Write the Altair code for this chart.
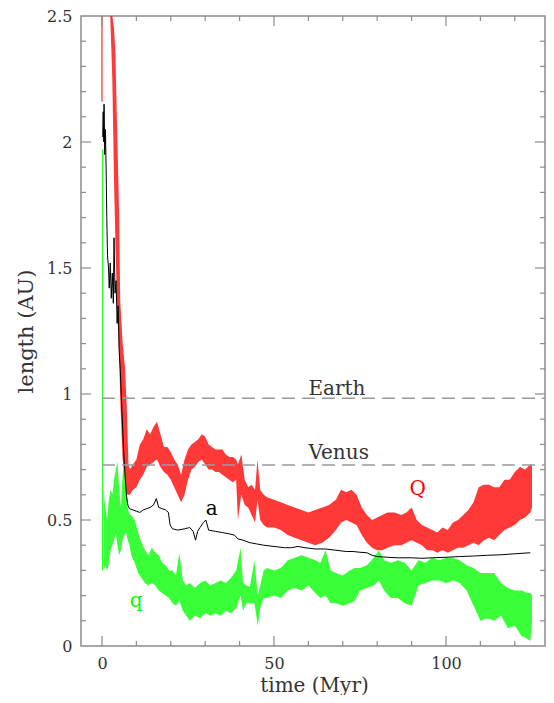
import altair as alt
import pandas as pd

# ---------------- data ----------------
# Q (aphelion) envelope: time (Myr), lower and upper edge (AU)
Q_time = [2.4, 3.0, 3.5, 3.9, 4.4, 5.0, 5.3, 6.0, 6.7, 7.2, 7.7, 8.1, 9, 10, 11, 12, 13, 14, 15, 16,
          17, 18, 19, 20, 21, 22, 23, 24, 25, 26, 27, 28, 29, 30, 31, 32, 33, 34, 35, 36,
          37, 38, 39, 39.5, 40.5, 41.5, 42.5, 43.5, 44.5, 45.2, 46, 47, 48, 50, 52, 54, 56, 58, 60, 62,
          64, 66, 68, 69.5, 71, 72.5, 74, 75.5, 77, 78.5, 80, 81.5, 83, 85, 87, 88.5, 90, 91.5, 93, 94.5,
          96, 97.5, 99, 100.5, 102, 103.5, 105, 106.5, 108, 109.5, 111, 112.5, 114, 115.5, 117, 118.5,
          120, 121.5, 123, 124.5, 125]
Q_low = [2.5, 2.25, 1.85, 1.60, 1.35, 1.15, 0.98, 0.74, 0.66, 0.60, 0.60, 0.60, 0.62, 0.63, 0.66, 0.68, 0.71, 0.72, 0.73, 0.74,
         0.71, 0.69, 0.68, 0.66, 0.63, 0.60, 0.57, 0.60, 0.66, 0.70, 0.71, 0.73, 0.74, 0.72, 0.70, 0.70, 0.69, 0.69, 0.68, 0.67,
         0.66, 0.65, 0.66, 0.50, 0.60, 0.56, 0.55, 0.52, 0.49, 0.58, 0.50, 0.48, 0.47, 0.47, 0.46, 0.44, 0.43, 0.42, 0.41, 0.40,
         0.41, 0.43, 0.46, 0.49, 0.50, 0.49, 0.48, 0.44, 0.41, 0.39, 0.38, 0.38, 0.39, 0.40, 0.40, 0.41, 0.42, 0.41, 0.40, 0.38,
         0.38, 0.37, 0.38, 0.37, 0.38, 0.39, 0.39, 0.40, 0.41, 0.40, 0.42, 0.43, 0.42, 0.44, 0.46, 0.47,
         0.48, 0.50, 0.51, 0.53, 0.55]
Q_high = [2.5, 2.5, 2.45, 2.35, 2.05, 1.70, 1.37, 1.20, 1.10, 0.95, 0.72, 0.70, 0.72, 0.74, 0.80, 0.82, 0.86, 0.84, 0.87, 0.89,
          0.84, 0.79, 0.79, 0.77, 0.74, 0.72, 0.68, 0.74, 0.78, 0.80, 0.81, 0.82, 0.84, 0.83, 0.80, 0.79, 0.78, 0.78, 0.78, 0.76,
          0.75, 0.75, 0.74, 0.72, 0.76, 0.66, 0.63, 0.64, 0.62, 0.74, 0.62, 0.60, 0.59, 0.58, 0.57, 0.56, 0.55, 0.54, 0.53, 0.54,
          0.55, 0.56, 0.58, 0.62, 0.61, 0.62, 0.60, 0.55, 0.52, 0.50, 0.51, 0.52, 0.53, 0.53, 0.52, 0.53, 0.55, 0.50, 0.48, 0.47,
          0.46, 0.45, 0.47, 0.46, 0.49, 0.50, 0.52, 0.54, 0.57, 0.63, 0.64, 0.64, 0.63, 0.63, 0.66, 0.66,
          0.69, 0.71, 0.70, 0.72, 0.72]

# q (perihelion) envelope
q_time = [0.5, 1.0, 1.5, 2.0, 2.5, 3.0, 3.5, 4.0, 4.5, 5.0, 5.5, 6.0, 6.5, 7.0, 7.5, 8.0,
          8.5, 9.5, 10.5, 11.5, 12.5, 13.5, 14.5, 15.5, 16.5, 17.5, 18.5, 19.5, 20.5, 21.5, 22.5, 23.5, 24.5, 25.5,
          27, 28.5, 30, 31.5, 33, 34.5, 36, 37.5, 39,
          40.3, 41, 42, 43, 44.3, 45.3, 46, 47, 48,
          50, 52, 54, 56, 58, 60, 62,
          63.5, 65, 66.5, 68,
          70, 72, 73.5, 75, 77, 79, 80.5,
          82, 84, 86, 88, 90, 92, 94, 96, 98, 100, 102, 104, 106, 108, 110, 112, 114, 116, 118, 120, 122,
          123.5, 124.5, 125]
q_low = [0.30, 0.32, 0.30, 0.33, 0.38, 0.40, 0.42, 0.45, 0.40, 0.36, 0.38, 0.42, 0.44, 0.45, 0.42, 0.40,
         0.36, 0.33, 0.29, 0.27, 0.25, 0.24, 0.25, 0.24, 0.22, 0.21, 0.20, 0.19, 0.17, 0.16, 0.18, 0.14, 0.12, 0.10,
         0.12, 0.11, 0.13, 0.12, 0.13, 0.12, 0.14, 0.13, 0.15,
         0.20, 0.14, 0.17, 0.17, 0.17, 0.08, 0.15, 0.19, 0.19,
         0.20, 0.19, 0.22, 0.23, 0.22, 0.24, 0.21,
         0.19, 0.20, 0.17, 0.17,
         0.16, 0.17, 0.18, 0.22, 0.23, 0.24, 0.26,
         0.22, 0.19, 0.19, 0.17, 0.16, 0.24, 0.25, 0.26, 0.26, 0.25, 0.26, 0.25, 0.22, 0.16, 0.10, 0.11, 0.10, 0.12, 0.07, 0.08, 0.04,
         0.03, 0.02, 0.10]
q_high = [0.60, 0.55, 0.50, 0.58, 0.62, 0.60, 0.66, 0.70, 0.73, 0.62, 0.55, 0.68, 0.73, 0.64, 0.55, 0.52,
          0.52, 0.50, 0.45, 0.41, 0.38, 0.36, 0.39, 0.37, 0.36, 0.33, 0.32, 0.30, 0.30, 0.28, 0.37, 0.26, 0.24, 0.25,
          0.23, 0.25, 0.26, 0.24, 0.25, 0.26, 0.25, 0.27, 0.30,
          0.39, 0.25, 0.24, 0.235, 0.34, 0.20, 0.24, 0.30, 0.31,
          0.30, 0.31, 0.34, 0.35, 0.36, 0.35, 0.34,
          0.33, 0.38, 0.30, 0.29,
          0.28, 0.30, 0.31, 0.31, 0.32, 0.35, 0.38,
          0.34, 0.33, 0.34, 0.33, 0.30, 0.34, 0.33, 0.35, 0.34, 0.35, 0.35, 0.34, 0.32, 0.31, 0.29, 0.29, 0.29, 0.25, 0.23, 0.22, 0.22,
          0.21, 0.21, 0.20]

# a (semi-major axis)
a_time = [0.2, 0.35, 0.5, 0.6, 0.8, 1.0, 1.2, 1.4, 1.6, 1.9, 2.1, 2.4, 2.7, 3.0, 3.3, 3.5, 3.8, 4.1, 4.4, 4.7,
          5.0, 5.3, 5.6, 5.9, 6.2, 6.5, 6.8, 7.1, 7.5, 8.0, 9, 10, 11, 12, 13, 14, 15, 15.8, 16.5, 17.5,
          18.5, 19.3, 19.8, 20.5, 22, 24, 25.5, 26.5, 27.2, 27.8, 28.5, 29.5, 30.2, 31, 33, 35, 37, 38.5, 39.5, 41,
          43, 45, 47, 50, 53, 55, 57, 59, 62, 65, 68, 71, 73, 75, 77, 78.5, 80, 83, 86, 90,
          93, 96, 100, 104, 108, 112, 116, 120, 124.5]
a_val = [2.02, 2.12, 2.0, 2.15, 1.95, 2.05, 1.9, 1.7, 1.55, 1.5, 1.42, 1.52, 1.38, 1.48, 1.36, 1.62, 1.4, 1.45, 1.28, 1.35,
         1.17, 1.1, 1.0, 0.9, 0.8, 0.72, 0.66, 0.6, 0.56, 0.545, 0.54, 0.535, 0.53, 0.54, 0.545, 0.55, 0.56, 0.585, 0.55, 0.545,
         0.54, 0.53, 0.48, 0.465, 0.46, 0.465, 0.47, 0.455, 0.42, 0.455, 0.47, 0.49, 0.50, 0.46, 0.455, 0.45, 0.445, 0.44, 0.425, 0.42,
         0.41, 0.405, 0.40, 0.395, 0.39, 0.39, 0.395, 0.39, 0.385, 0.385, 0.38, 0.375, 0.375, 0.372, 0.37, 0.36, 0.355, 0.352, 0.35, 0.35,
         0.348, 0.35, 0.352, 0.355, 0.357, 0.36, 0.362, 0.366, 0.37]

# initial near-vertical traces
spike_series = ["Q", "q"]
spike_time = [0.0, 0.2]
spike_low = [2.16, 0.30]
spike_high = [2.5, 1.97]

# planets' orbits (dashed lines) and their labels
planet_names = ["Earth", "Venus"]
planet_dist = [0.983, 0.718]
planet_label_t = [68.3, 68.8]
planet_label_v = [0.997, 0.744]

# curve labels
curve_names = ["Q", "a", "q"]
curve_label_t = [91.8, 31.9, 9.9]
curve_label_v = [0.60, 0.518, 0.154]

# axis ticks
x_major = [0, 50, 100]
x_minor = [10, 20, 30, 40, 60, 70, 80, 90, 110, 120]
y_labels = [0, 0.5, 1, 1.5, 2, 2.5]
y_major = [0.5, 1.0, 1.5, 2.0]
y_minor = [round(0.1 * i, 1) for i in range(1, 25) if i % 5 != 0]

# ---------------- chart ----------------
W, H = 464, 630
PX_PER_MYR = 3.44
XMIN = -6.1
XMAX = XMIN + W / PX_PER_MYR
FONT = "DejaVu Serif"
RED = "#ff0000"
GREEN = "#00ff00"
FRAME = "#8c8c8c"
TXT = "#333333"

xs = alt.Scale(domain=[XMIN, XMAX], nice=False, zero=False)
ys = alt.Scale(domain=[0, 2.5], nice=False, zero=False)
xaxis = alt.Axis(values=x_major, title="time (Myr)", ticks=False, domain=False, grid=False,
                 labelPadding=9, labelFontSize=16, labelFlush=False, titleFontSize=20,
                 titleX=(0 - XMIN) * PX_PER_MYR + 212, titleY=39, titleBaseline="middle")
yaxis = alt.Axis(values=y_labels, format="~g", title="length (AU)", ticks=False, domain=False, grid=False,
                 labelPadding=9, labelFontSize=16, labelFlush=False, titleFontSize=21,
                 titleX=-55, titleY=H / 2, titleBaseline="middle", titleAngle=270)


def X(f):
    return alt.X(f, type="quantitative", scale=xs, axis=xaxis)


def Y(f):
    return alt.Y(f, type="quantitative", scale=ys, axis=yaxis)


dfQ = pd.DataFrame({"t": Q_time, "lo": Q_low, "hi": Q_high})
dfq = pd.DataFrame({"t": q_time, "lo": q_low, "hi": q_high})
dfa = pd.DataFrame({"t": a_time, "v": a_val})
dfs = pd.DataFrame({"s": spike_series, "t": spike_time, "lo": spike_low, "hi": spike_high})
dfp = pd.DataFrame({"name": planet_names, "v": planet_dist, "lt": planet_label_t, "lv": planet_label_v})
dfc = pd.DataFrame({"name": curve_names, "t": curve_label_t, "v": curve_label_v})

layers = []

layers.append(alt.Chart(dfQ).mark_area(color=RED, opacity=0.78).encode(
    x=X("t"), y=Y("lo"), y2=alt.Y2("hi")))
layers.append(alt.Chart(dfq).mark_area(color=GREEN, opacity=0.78).encode(
    x=X("t"), y=Y("lo"), y2=alt.Y2("hi")))
layers.append(alt.Chart(dfs).mark_rule(strokeWidth=1).encode(
    x=X("t"), y=Y("lo"), y2=alt.Y2("hi"),
    color=alt.Color("s:N", scale=alt.Scale(domain=["Q", "q"], range=[RED, GREEN]), legend=None)))
layers.append(alt.Chart(dfa).mark_line(color="black", strokeWidth=1).encode(
    x=X("t"), y=Y("v")))

layers.append(alt.Chart(dfp).transform_calculate(x0="0").mark_rule(
    color="#9a9a9a", strokeWidth=1.5, strokeDash=[13, 7]).encode(
    x=X("x0"), x2=alt.value(W), y=Y("v")))
layers.append(alt.Chart(dfp).mark_text(font=FONT, fontSize=20, color="#333333",
                                       baseline="alphabetic", align="center").encode(
    x=X("lt"), y=Y("lv"), text="name:N"))

curve_colors = {"Q": RED, "a": "black", "q": GREEN}
for nm in curve_names:
    layers.append(alt.Chart(dfc).transform_filter(alt.datum.name == nm).mark_text(
        font=FONT, fontSize=20, color=curve_colors[nm], baseline="alphabetic", align="center").encode(
        x=X("t"), y=Y("v"), text="name:N"))

# inward ticks on all four sides
for vals, ln in [(x_major, 10), (x_minor, 5)]:
    d = pd.DataFrame({"t": vals})
    layers.append(alt.Chart(d).mark_rule(color=FRAME, strokeWidth=1.2).encode(
        x=X("t"), y=alt.value(H), y2=alt.value(H - ln)))
    layers.append(alt.Chart(d).mark_rule(color=FRAME, strokeWidth=1.2).encode(
        x=X("t"), y=alt.value(0), y2=alt.value(ln)))
for vals, ln in [(y_major, 10), (y_minor, 5)]:
    d = pd.DataFrame({"v": vals})
    layers.append(alt.Chart(d).mark_rule(color=FRAME, strokeWidth=1.2).encode(
        y=Y("v"), x=alt.value(0), x2=alt.value(ln)))
    layers.append(alt.Chart(d).mark_rule(color=FRAME, strokeWidth=1.2).encode(
        y=Y("v"), x=alt.value(W - ln), x2=alt.value(W)))

chart = alt.layer(*layers).properties(
    width=W, height=H,
    autosize=alt.AutoSizeParams(type="none"),
    padding={"left": 73, "top": 8, "right": 1, "bottom": 49},
).configure_view(
    stroke=FRAME, strokeWidth=1.5
).configure_axis(
    labelFont=FONT, titleFont=FONT, labelColor=TXT, titleColor=TXT, titleFontWeight="normal"
)

chart.save("out.html", embed_options={"renderer": "svg", "actions": False})
